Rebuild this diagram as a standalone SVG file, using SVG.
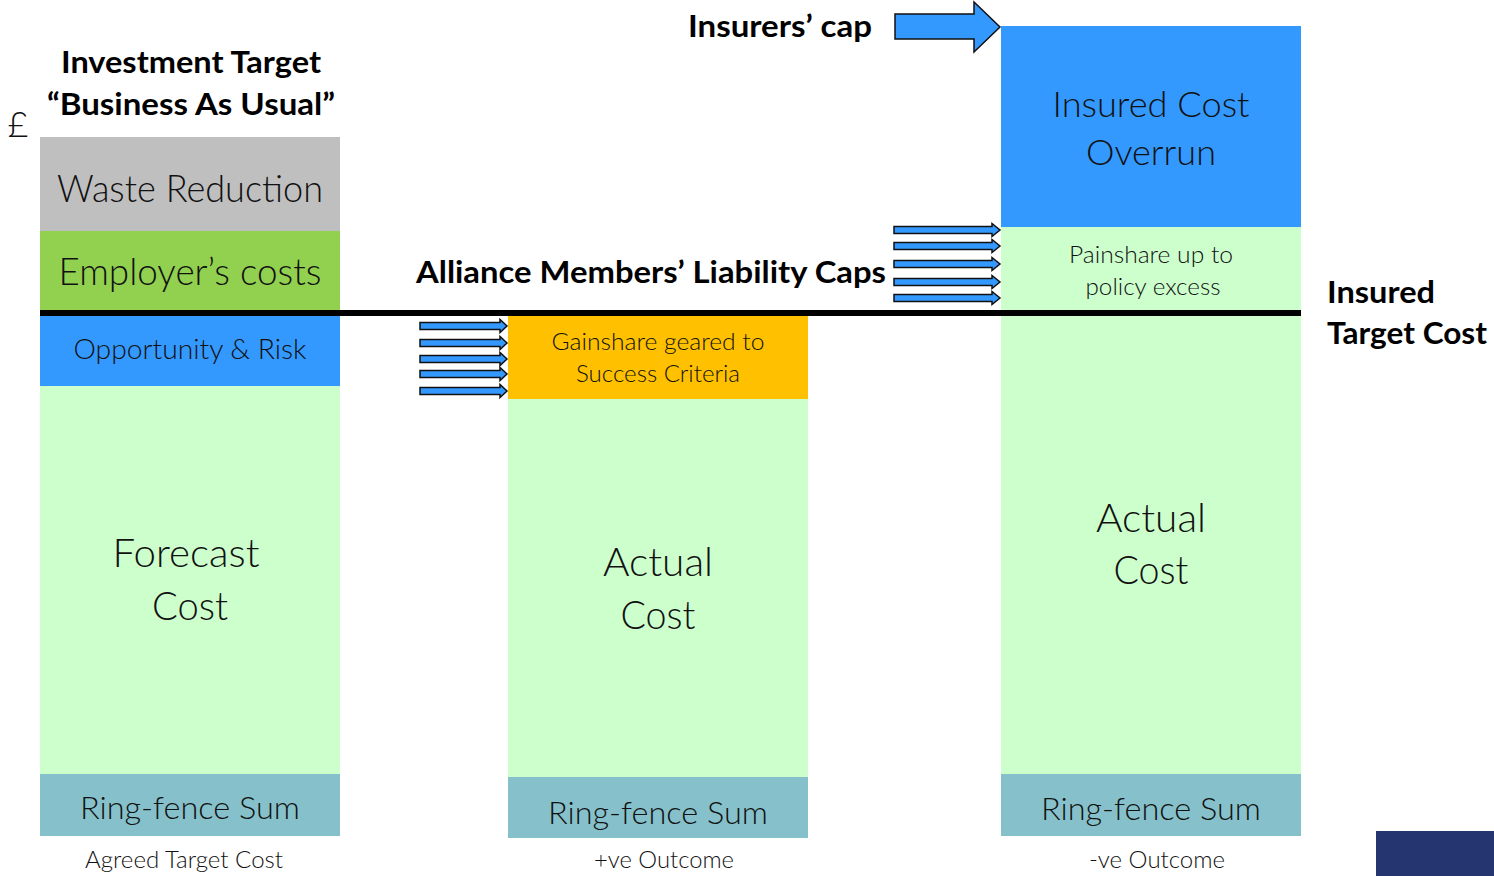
<svg xmlns="http://www.w3.org/2000/svg" width="1494" height="876" viewBox="0 0 1494 876">
<style>
.lt{font-family:Lato,"Open Sans","Liberation Sans",sans-serif;font-weight:300;fill:#111;text-anchor:middle}
.bd{font-family:Lato,"Open Sans","Liberation Sans",sans-serif;font-weight:700;fill:#000}
.arr{fill:#3399FF;stroke:#111;stroke-width:1.5;stroke-linejoin:miter}
</style>
<defs>
<path id="aR" class="arr" d="M0,-3.5 H98 V-6.5 L106,0 L98,6.5 V3.5 H0 Z"/>
<path id="aL" class="arr" d="M0,-3.5 H80 V-6.5 L87,0 L80,6.5 V3.5 H0 Z"/>
</defs>
<rect width="1494" height="876" fill="#fff"/>

<g id="left-bar">
<rect x="40" y="137" width="300" height="94" fill="#BFBFBF"/>
<text class="lt" x="190" y="202" font-size="37" textLength="266" lengthAdjust="spacingAndGlyphs">Waste Reduction</text>
<rect x="40" y="231" width="300" height="82" fill="#92D050"/>
<text class="lt" x="190" y="285" font-size="37" textLength="263" lengthAdjust="spacingAndGlyphs">Employer’s costs</text>
<rect x="40" y="313" width="300" height="73" fill="#3399FF"/>
<text class="lt" x="190" y="359" font-size="28" textLength="233" lengthAdjust="spacingAndGlyphs">Opportunity &amp; Risk</text>
<rect x="40" y="386" width="300" height="388" fill="#CCFFCC"/>
<text class="lt" x="186" y="567" font-size="39" textLength="147" lengthAdjust="spacingAndGlyphs">Forecast</text>
<text class="lt" x="190" y="620" font-size="39" textLength="76" lengthAdjust="spacingAndGlyphs">Cost</text>
<rect x="40" y="774" width="300" height="62" fill="#86C1CB"/>
<text class="lt" x="190" y="819" font-size="32" textLength="220" lengthAdjust="spacingAndGlyphs">Ring-fence Sum</text>
<text class="lt" x="184" y="868" font-size="24" textLength="198" lengthAdjust="spacingAndGlyphs">Agreed Target Cost</text>
</g>

<g id="middle-bar">
<rect x="508" y="313" width="300" height="86" fill="#FFC000"/>
<text class="lt" x="658" y="350" font-size="24" textLength="213" lengthAdjust="spacingAndGlyphs">Gainshare geared to</text>
<text class="lt" x="658" y="382" font-size="24" textLength="164" lengthAdjust="spacingAndGlyphs">Success Criteria</text>
<rect x="508" y="399" width="300" height="378" fill="#CCFFCC"/>
<text class="lt" x="658" y="576" font-size="39" textLength="110" lengthAdjust="spacingAndGlyphs">Actual</text>
<text class="lt" x="658" y="629" font-size="39" textLength="75" lengthAdjust="spacingAndGlyphs">Cost</text>
<rect x="508" y="777" width="300" height="61" fill="#86C1CB"/>
<text class="lt" x="658" y="824" font-size="32" textLength="220" lengthAdjust="spacingAndGlyphs">Ring-fence Sum</text>
<text class="lt" x="664" y="868" font-size="24" textLength="140" lengthAdjust="spacingAndGlyphs">+ve Outcome</text>
</g>

<g id="right-bar">
<rect x="1001" y="26" width="300" height="201" fill="#3399FF"/>
<text class="lt" x="1151" y="117" font-size="35" textLength="197" lengthAdjust="spacingAndGlyphs">Insured Cost</text>
<text class="lt" x="1151" y="165" font-size="35" textLength="130" lengthAdjust="spacingAndGlyphs">Overrun</text>
<rect x="1001" y="227" width="300" height="86" fill="#CCFFCC"/>
<text class="lt" x="1151" y="263" font-size="24" textLength="164" lengthAdjust="spacingAndGlyphs">Painshare up to</text>
<text class="lt" x="1153" y="295" font-size="24" textLength="135" lengthAdjust="spacingAndGlyphs">policy excess</text>
<rect x="1001" y="313" width="300" height="461" fill="#CCFFCC"/>
<text class="lt" x="1151" y="532" font-size="39" textLength="110" lengthAdjust="spacingAndGlyphs">Actual</text>
<text class="lt" x="1151" y="584" font-size="39" textLength="75" lengthAdjust="spacingAndGlyphs">Cost</text>
<rect x="1001" y="774" width="300" height="62" fill="#86C1CB"/>
<text class="lt" x="1151" y="820" font-size="32" textLength="220" lengthAdjust="spacingAndGlyphs">Ring-fence Sum</text>
<text class="lt" x="1157" y="868" font-size="24" textLength="136" lengthAdjust="spacingAndGlyphs">-ve Outcome</text>
</g>

<g id="labels">
<text class="bd" x="61" y="73" font-size="30" textLength="260" lengthAdjust="spacingAndGlyphs">Investment Target</text>
<text class="bd" x="47" y="115" font-size="30" textLength="288" lengthAdjust="spacingAndGlyphs">“Business As Usual”</text>
<text class="lt" x="18" y="137" font-size="36">£</text>
<text class="bd" x="688" y="37" font-size="30" textLength="184" lengthAdjust="spacingAndGlyphs">Insurers’ cap</text>
<text class="bd" x="416" y="283" font-size="30" textLength="470" lengthAdjust="spacingAndGlyphs">Alliance Members’ Liability Caps</text>
<text class="bd" x="1327" y="303" font-size="30" textLength="108" lengthAdjust="spacingAndGlyphs">Insured</text>
<text class="bd" x="1327" y="344" font-size="30" textLength="160" lengthAdjust="spacingAndGlyphs">Target Cost</text>
</g>

<g id="connectors">
<rect x="40" y="310" width="1261" height="6" fill="#000"/>
<polygon class="arr" points="895,14 974,14 974,2 1000,27 974,52 974,39 895,39"/>
<use href="#aR" x="894" y="230"/>
<use href="#aR" x="894" y="246"/>
<use href="#aR" x="894" y="264"/>
<use href="#aR" x="894" y="282"/>
<use href="#aR" x="894" y="298"/>
<use href="#aL" x="420" y="326"/>
<use href="#aL" x="420" y="343"/>
<use href="#aL" x="420" y="359"/>
<use href="#aL" x="420" y="374"/>
<use href="#aL" x="420" y="391"/>
</g>

<rect id="corner" x="1376" y="831" width="118" height="45" fill="#253570"/>
</svg>
